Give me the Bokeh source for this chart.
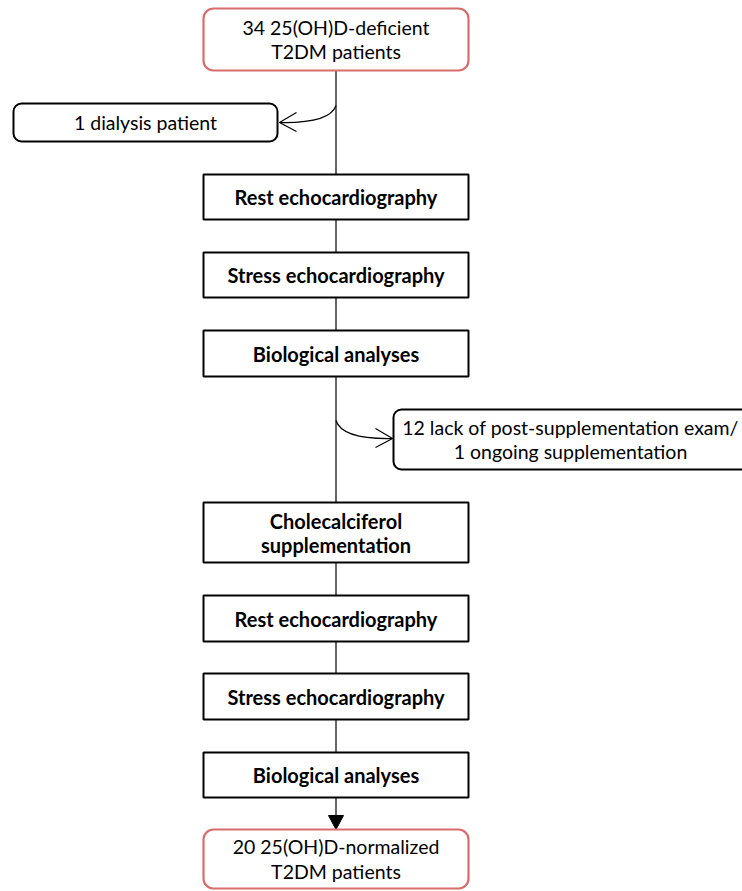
from bokeh.plotting import figure
from bokeh.models import Range1d
from bokeh.core.properties import value
from bokeh.embed import file_html
from bokeh.resources import INLINE

# ---- content ----
start_label = "34 25(OH)D-deficient\nT2DM patients"
end_label = "20 25(OH)D-normalized\nT2DM patients"
step_labels = ["Rest echocardiography", "Stress echocardiography", "Biological analyses",
               "Cholecalciferol\nsupplementation",
               "Rest echocardiography", "Stress echocardiography", "Biological analyses"]
exclusion_labels = ["1 dialysis patient",
                    "12 lack of post-supplementation exam/\n1 ongoing supplementation"]

# ---- layout (reference pixel coordinates, y downward) ----
col_left, col_right = 203, 468
col_x = 335.5
step_tops = [174, 252, 330, 502, 595, 673, 752]
step_bottoms = [219, 297, 376, 562, 641, 719, 797]
term_tops = [8, 829]
term_bottoms = [70, 888]
excl_left = [13, 393]
excl_right = [277, 760]
excl_tops = [103, 409]
excl_bottoms = [141, 469]
excl_text_x = [145, 570]
branch_y0 = [105, 420]
branch_tip_x = [279, 392]
branch_tip_y = [122, 438]

RED = "#d96c6c"
FONT = value("Lato")

p = figure(width=742, height=891, output_backend="svg", toolbar_location=None,
           x_range=Range1d(0, 742), y_range=Range1d(891, 0), min_border=0)
p.axis.visible = False
p.grid.visible = False
p.outline_line_color = None
p.background_fill_color = "white"

# main vertical line
p.segment(x0=[col_x], y0=[term_bottoms[0]], x1=[col_x], y1=[term_tops[1] - 14],
          line_color="black", line_width=1.2)
# arrowhead into final box
p.patch(x=[col_x - 7.5, col_x + 7.5, col_x], y=[term_tops[1] - 14, term_tops[1] - 14, term_tops[1]],
        fill_color="black", line_color="black", line_width=1)

# branch curves
for y0, tx, ty in zip(branch_y0, branch_tip_x, branch_tip_y):
    sgn = 1 if tx > col_x else -1
    p.quadratic(x0=[col_x], y0=[y0], x1=[tx], y1=[ty], cx=[col_x + sgn * 6], cy=[ty + 1],
                line_color="black", line_width=1.2)
    p.segment(x0=[tx, tx], y0=[ty, ty], x1=[tx - sgn * 17, tx - sgn * 17], y1=[ty - 10, ty + 9],
              line_color="black", line_width=1.2)

# step boxes
p.quad(left=[col_left] * len(step_tops), right=[col_right] * len(step_tops),
       top=step_tops, bottom=step_bottoms,
       fill_color="white", line_color="black", line_width=2)
p.text(x=[col_x] * len(step_labels),
       y=[(a + b) / 2 for a, b in zip(step_tops, step_bottoms)],
       text=step_labels, text_align="center", text_baseline="middle",
       text_font=FONT, text_font_style="bold", text_font_size="20px",
       text_color="black", text_line_height=1.0)

# terminal boxes
p.quad(left=[col_left] * 2, right=[col_right] * 2, top=term_tops, bottom=term_bottoms,
       fill_color="white", line_color=RED, line_width=2.2, border_radius=10)
p.text(x=[col_x] * 2, y=[(a + b) / 2 for a, b in zip(term_tops, term_bottoms)],
       text=[start_label, end_label], text_align="center", text_baseline="middle",
       text_font=FONT, text_font_size="19.5px", text_color="black", text_line_height=1.07)

# exclusion boxes
p.quad(left=excl_left, right=excl_right, top=excl_tops, bottom=excl_bottoms,
       fill_color="white", line_color="black", line_width=2, border_radius=8)
p.text(x=excl_text_x, y=[(a + b) / 2 for a, b in zip(excl_tops, excl_bottoms)],
       text=exclusion_labels, text_align="center", text_baseline="middle",
       text_font=FONT, text_font_size="19.5px", text_color="black", text_line_height=1.03)

open("out.html", "w").write(file_html(p, INLINE))
